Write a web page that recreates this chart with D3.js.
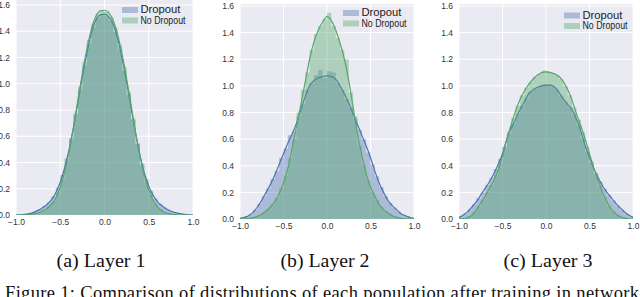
<!DOCTYPE html>
<html><head><meta charset="utf-8">
<script src="https://cdn.jsdelivr.net/npm/d3@7/dist/d3.min.js"></script>
<style>body{margin:0;background:#fff}svg{display:block}</style>
</head><body>
<svg id="chart" width="640" height="297"></svg>
<script>
// ---------- DATA ----------
const seriesNames = ["Dropout", "No Dropout"];
const panelCaptions = ["(a) Layer 1", "(b) Layer 2", "(c) Layer 3"];
const xTicks = [-1.0, -0.5, 0.0, 0.5, 1.0];
const yTicks = [0.0, 0.2, 0.4, 0.6, 0.8, 1.0, 1.2, 1.4, 1.6];
const figureText = "Figure 1: Comparison of distributions of each population after training in network";

// KDE evaluation grid
const xGrid = [-1,-0.95,-0.9,-0.85,-0.8,-0.75,-0.7,-0.65,-0.6,-0.55,-0.5,-0.45,-0.4,-0.35,-0.3,-0.25,-0.2,-0.15,-0.1,-0.05,0,0.05,0.1,0.15,0.2,0.25,0.3,0.35,0.4,0.45,0.5,0.55,0.6,0.65,0.7,0.75,0.8,0.85,0.9,0.95,1];

// KDE densities
const kdeL1Dropout   = [0,0.002,0.005,0.01,0.02,0.035,0.055,0.08,0.115,0.17, 0.25,0.36,0.5,0.67,0.86,1.05,1.23,1.38,1.48,1.525, 1.53, 1.51,1.45,1.34,1.19,1.01,0.82,0.63,0.46,0.32,0.22, 0.15,0.1,0.07,0.045,0.03,0.018,0.01,0.005,0.002,0];
const kdeL1NoDropout = [0,0,0,0.003,0.008,0.015,0.03,0.05,0.08,0.13, 0.21,0.33,0.48,0.67,0.88,1.08,1.26,1.41,1.51,1.555, 1.56, 1.54,1.48,1.37,1.22,1.04,0.84,0.63,0.45,0.3,0.19, 0.11,0.06,0.03,0.015,0.007,0.003,0,0,0,0];
const kdeL2Dropout   = [0.005,0.012,0.025,0.05,0.09,0.14,0.2,0.26,0.33,0.41, 0.49,0.57,0.64,0.72,0.82,0.92,1.0,1.04,1.06,1.07, 1.075, 1.07,1.05,1.0,0.94,0.87,0.79,0.71,0.63,0.55,0.46, 0.36,0.27,0.2,0.14,0.1,0.07,0.04,0.025,0.012,0.005];
const kdeL2NoDropout = [0,0,0.003,0.01,0.02,0.035,0.06,0.09,0.13,0.19, 0.27,0.38,0.53,0.7,0.86,1.03,1.2,1.33,1.42,1.48, 1.52, 1.49,1.42,1.32,1.2,1.04,0.84,0.64,0.48,0.34,0.24, 0.17,0.11,0.07,0.045,0.025,0.012,0.005,0.002,0,0];
const kdeL3Dropout   = [0.01,0.03,0.055,0.09,0.13,0.18,0.23,0.28,0.34,0.41, 0.49,0.6,0.68,0.75,0.82,0.88,0.94,0.97,0.99,1.0, 1.005, 1.005,0.99,0.95,0.9,0.86,0.82,0.75,0.66,0.55,0.46, 0.38,0.31,0.25,0.2,0.16,0.12,0.085,0.055,0.03,0.012];
const kdeL3NoDropout = [0,0.003,0.01,0.03,0.07,0.12,0.17,0.23,0.29,0.37, 0.47,0.6,0.71,0.81,0.895,0.96,1.01,1.05,1.08,1.1, 1.105, 1.1,1.09,1.07,1.03,0.97,0.89,0.79,0.7,0.6,0.49, 0.38,0.29,0.2,0.13,0.075,0.04,0.018,0.007,0.002,0];

// Histogram bin edges (same grid) and bar heights
const binEdges = xGrid;
const histL1Dropout   = [0.001,0.004,0.008,0.015,0.028,0.045,0.068,0.098,0.143,0.21, 0.305,0.43,0.585,0.765,0.955,1.14,1.305,1.43,1.505,1.53, 1.52,1.48,1.395,1.265,1.1,0.915,0.725,0.545,0.39,0.27, 0.185,0.125,0.085,0.058,0.038,0.024,0.014,0.008,0.004,0.001];
const histL1NoDropout = [0,0,0.001,0.005,0.011,0.022,0.04,0.066,0.105,0.17, 0.27,0.405,0.575,0.775,0.98,1.17,1.335,1.46,1.535,1.56, 1.55,1.51,1.425,1.295,1.13,0.94,0.735,0.54,0.375,0.245, 0.15,0.085,0.045,0.022,0.011,0.005,0.001,0,0,0];
const histL2Dropout   = [0.009,0.019,0.038,0.07,0.115,0.17,0.23,0.3,0.36,0.46, 0.53,0.63,0.66,0.77,0.86,0.97,1.02,1.08,1.12,1.06, 1.11,1.1,1.02,0.97,0.9,0.84,0.77,0.67,0.6,0.5, 0.41,0.32,0.24,0.17,0.12,0.085,0.055,0.032,0.018,0.008];
const histL2NoDropout = [0,0.002,0.007,0.015,0.028,0.048,0.075,0.11,0.16,0.23, 0.325,0.455,0.6,0.8,0.97,1.1,1.27,1.39,1.45,1.5, 1.55,1.45,1.36,1.27,1.2,0.95,0.75,0.55,0.41,0.29, 0.205,0.14,0.09,0.058,0.035,0.018,0.008,0.003,0.001,0];
const histL3Dropout   = [0.02,0.042,0.072,0.11,0.155,0.2,0.255,0.31,0.375,0.45, 0.545,0.64,0.715,0.79,0.85,0.91,0.955,0.98,0.995,1.01, 1.01,0.998,0.97,0.925,0.88,0.84,0.785,0.705,0.605,0.505, 0.42,0.345,0.28,0.225,0.18,0.14,0.1,0.07,0.042,0.02];
const histL3NoDropout = [0.001,0.006,0.02,0.05,0.095,0.145,0.2,0.26,0.33,0.42, 0.535,0.655,0.76,0.85,0.93,0.985,1.03,1.065,1.09,1.115, 1.11,1.095,1.08,1.05,1.0,0.93,0.84,0.745,0.65,0.545, 0.435,0.335,0.245,0.165,0.1,0.058,0.029,0.012,0.004,0.001];

// ---------- LAYOUT ----------
const panels = [
  {x0:16,  x1:193, yBase:215, yTop16:5, top:0,  legX:122, legY:7,
   kde:[kdeL1Dropout,kdeL1NoDropout], hist:[histL1Dropout,histL1NoDropout], capX:101},
  {x0:240, x1:414, yBase:219, yTop16:6, top:4,  legX:343, legY:10,
   kde:[kdeL2Dropout,kdeL2NoDropout], hist:[histL2Dropout,histL2NoDropout], capX:325},
  {x0:459, x1:633, yBase:219, yTop16:6, top:4,  legX:564, legY:12.5,
   kde:[kdeL3Dropout,kdeL3NoDropout], hist:[histL3Dropout,histL3NoDropout], capX:548}
];
const lineColors = ["#4C72B0", "#55A868"];
const bg = "#EAEAF2";
const fmt = d3.format(".1f");
const minus = s => s.replace("-", "\u2212");

const svg = d3.select("#chart");

panels.forEach((p, pi) => {
  const x = d3.scaleLinear().domain([-1, 1]).range([p.x0, p.x1]);
  const y = d3.scaleLinear().domain([0, 1.6]).range([p.yBase, p.yTop16]);
  const g = svg.append("g");
  const clipId = "clip" + pi;
  g.append("clipPath").attr("id", clipId).append("rect")
    .attr("x", p.x0).attr("y", p.top).attr("width", p.x1 - p.x0).attr("height", p.yBase - p.top);
  g.append("rect").attr("x", p.x0).attr("y", p.top)
    .attr("width", p.x1 - p.x0).attr("height", p.yBase - p.top).attr("fill", bg);

  const grid = g.append("g").attr("stroke", "#fff").attr("stroke-width", 1);
  xTicks.forEach(t => grid.append("line").attr("x1", x(t)).attr("x2", x(t))
    .attr("y1", p.top).attr("y2", p.yBase));
  yTicks.forEach(t => grid.append("line").attr("x1", p.x0).attr("x2", p.x1)
    .attr("y1", y(t)).attr("y2", y(t)));

  const plot = g.append("g").attr("clip-path", `url(#${clipId})`);
  [0, 1].forEach(si => {
    const hist = p.hist[si];
    // step outline of the histogram bars (one path, no seams)
    const steps = binEdges.map((e, i) => [e, hist[Math.min(i, hist.length - 1)]]);
    plot.append("path").datum(steps)
      .attr("d", d3.area().x(d => x(d[0])).y0(y(0)).y1(d => y(d[1])).curve(d3.curveStepAfter))
      .attr("fill", lineColors[si]).attr("fill-opacity", 0.4).attr("stroke", "none");
    const pts = xGrid.map((xv, i) => [xv, p.kde[si][i]]);
    plot.append("path").datum(pts)
      .attr("d", d3.line().x(d => x(d[0])).y(d => y(d[1])).curve(d3.curveMonotoneX))
      .attr("fill", "none").attr("stroke", lineColors[si]).attr("stroke-width", 1.2);
  });

  const xAxis = d3.axisBottom(x).tickValues(xTicks).tickFormat(d => minus(fmt(d))).tickSize(0).tickPadding(4);
  const xa = g.append("g").attr("transform", `translate(0,${p.yBase})`).call(xAxis);
  const yAxis = d3.axisLeft(y).tickValues(yTicks).tickFormat(d => fmt(d)).tickSize(0).tickPadding(6);
  const ya = g.append("g").attr("transform", `translate(${p.x0},0)`).call(yAxis);
  [xa, ya].forEach(a => {
    a.select(".domain").remove();
    a.selectAll("text").attr("font-family", "Liberation Sans, Arial, sans-serif")
      .attr("font-size", 8.5).attr("fill", "#333");
  });

  const leg = g.append("g");
  seriesNames.forEach((name, si) => {
    const ly = p.legY + si * 10.5;
    leg.append("rect").attr("x", p.legX).attr("y", ly).attr("width", 16).attr("height", 6)
      .attr("fill", lineColors[si]).attr("fill-opacity", 0.4);
    leg.append("text").attr("x", p.legX + 18.5).attr("y", ly + 6.3)
      .attr("font-family", "Liberation Sans, Arial, sans-serif").attr("font-size", si === 0 ? 10.5 : 10)
      .attr("textLength", si === 0 ? 40 : 45).attr("lengthAdjust", "spacingAndGlyphs")
      .attr("fill", "#222").text(name);
  });

  svg.append("text").attr("x", p.capX).attr("y", 267).attr("text-anchor", "middle")
    .attr("font-family", "Liberation Serif, Times New Roman, serif").attr("font-size", 18.5)
    .attr("textLength", 89).attr("lengthAdjust", "spacingAndGlyphs")
    .attr("fill", "#111").text(panelCaptions[pi]);
});

svg.append("text").attr("x", 5).attr("y", 299)
  .attr("font-family", "Liberation Serif, Times New Roman, serif").attr("font-size", 18.5)
  .attr("textLength", 634).attr("lengthAdjust", "spacing")
  .attr("fill", "#111").text(figureText);
</script>
</body></html>
